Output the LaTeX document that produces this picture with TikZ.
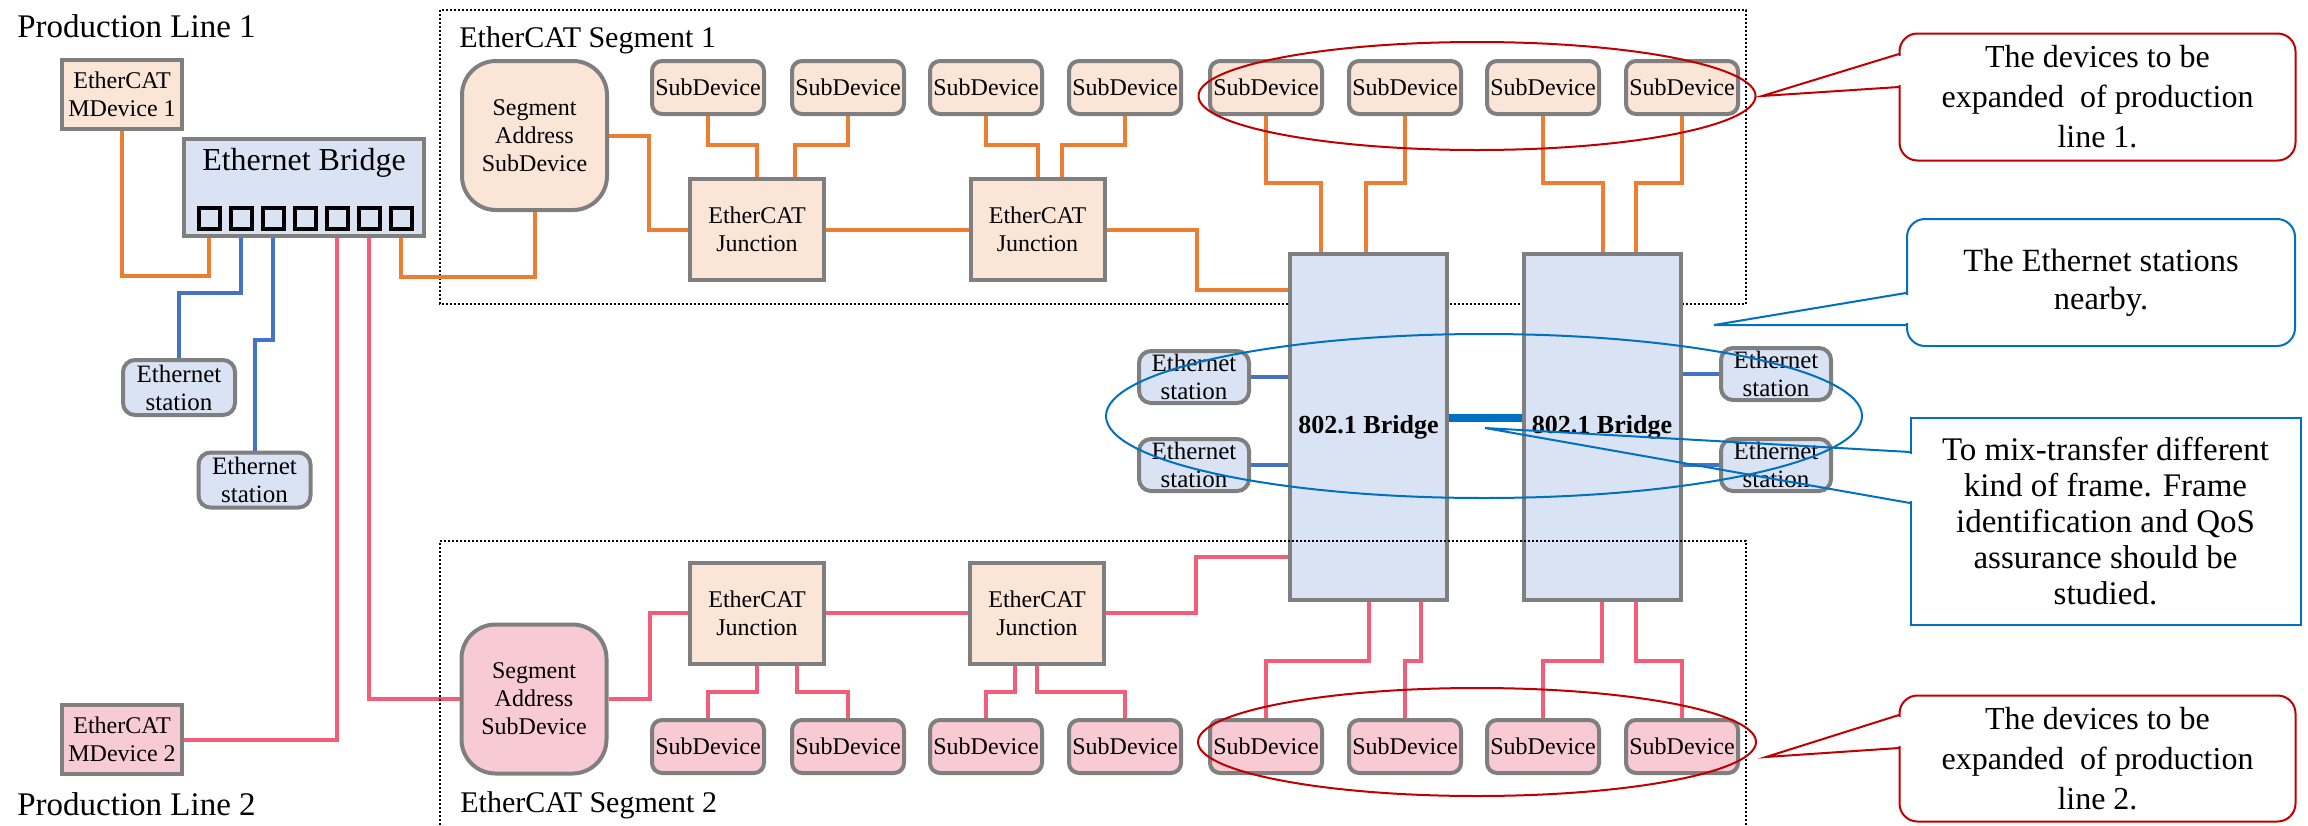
\documentclass[tikz,border=0pt]{standalone}
\usepackage{fontspec}
\setmainfont{Liberation Serif}
\usetikzlibrary{calc,shapes.geometric}
\definecolor{gborder}{HTML}{7F7F7F}
\definecolor{peach}{HTML}{FBE5D6}
\definecolor{pinkf}{HTML}{F8CAD3}
\definecolor{bluef}{HTML}{DAE3F3}
\definecolor{orl}{HTML}{ED7D31}
\definecolor{pkl}{HTML}{F25D79}
\definecolor{bll}{HTML}{4472C4}
\definecolor{cblue}{HTML}{0070C0}
\definecolor{cred}{HTML}{C00000}
\pgfdeclarelayer{bg}
\pgfsetlayers{bg,main}
\tikzset{
  box/.style={draw=gborder, line width=2pt, inner sep=0pt, align=center, font=\fontsize{12}{14}\selectfont},
  mdev/.style={box, minimum width=60pt, minimum height=34.5pt},
  subdev/.style={box, rounded corners=5pt, minimum width=56pt, minimum height=26.5pt},
  estation/.style={box, fill=bluef, rounded corners=6pt, minimum width=56pt, minimum height=27.5pt, font=\fontsize{12.5}{14}\selectfont},
  estationb/.style={estation, minimum width=55pt, minimum height=26pt},
  segaddr/.style={box, rounded corners=17pt, minimum width=72.5pt, minimum height=74.5pt},
  junc/.style={box, fill=peach, minimum width=67pt, minimum height=50.5pt},
  bridge/.style={box, fill=bluef, minimum width=78.5pt, minimum height=173pt, font=\fontsize{13}{15}\selectfont\bfseries},
  port/.style={draw=black, line width=2pt, minimum size=10.5pt, inner sep=0pt},
  conn/.style={line width=2pt},
  orc/.style={conn, orl},
  pkc/.style={conn, pkl},
  blc/.style={conn, bll},
  seg/.style={line width=1pt, dash pattern=on 1pt off 1pt},
  callbox/.style={line width=1pt, fill=white, inner sep=0pt, align=center, font=\fontsize{16}{20}\selectfont},
  hl/.style={ellipse, line width=1pt, inner sep=0pt},
  lbl/.style={inner sep=0pt, anchor=base west},
}
\begin{document}
\begin{tikzpicture}[x=0.5pt, y=-0.5pt]
\useasboundingbox (0,0) rectangle (2308,825);
% titles
\node[lbl, font=\fontsize{16.5}{18}\selectfont] (pl1) at (17,37) {Production Line 1};
\node[lbl, font=\fontsize{16.5}{18}\selectfont] (pl2) at (17,815) {Production Line 2};
\node[lbl, font=\fontsize{15}{17}\selectfont] (sg1) at (459,47) {EtherCAT Segment 1};
\node[lbl, font=\fontsize{15}{17}\selectfont] (sg2) at (460,812) {EtherCAT Segment 2};
% left part
\node[mdev, fill=peach] (md1) at (122,94.5) {EtherCAT\\MDevice 1};
\node[mdev, fill=pinkf] (md2) at (122,739.5) {EtherCAT\\MDevice 2};
\node[box, fill=bluef, minimum width=120pt, minimum height=48.5pt] (eb) at (304,187.5) {};
\node[inner sep=0pt, anchor=base, font=\fontsize{16}{18}\selectfont] (ebt) at (304,170) {Ethernet Bridge};
\foreach \i in {1,...,7} \node[port] (p\i) at ({209+32*(\i-1)},218) {};
\node[estation] (es1) at (179,387.5) {Ethernet\\station};
\node[estation] (es2) at (254.5,480) {Ethernet\\station};
% segments
\node[segaddr, fill=peach] (sa1) at (534.5,135.5) {Segment\\Address\\SubDevice};
\node[segaddr, fill=pinkf] (sa2) at (534,699) {Segment\\Address\\SubDevice};
\foreach \i/\x in {1/708,2/848,3/986,4/1125,5/1266,6/1405,7/1543,8/1682}{
  \node[subdev, fill=peach] (a\i) at (\x,87.5) {SubDevice};
  \node[subdev, fill=pinkf] (b\i) at (\x,746.5) {SubDevice};
}
\node[junc] (j1) at (757,229.5) {EtherCAT\\Junction};
\node[junc] (j2) at (1037.5,229.5) {EtherCAT\\Junction};
\node[junc] (j1b) at (757,613) {EtherCAT\\Junction};
\node[junc] (j2b) at (1037,613) {EtherCAT\\Junction};
% bridges and stations
\node[bridge] (br1) at (1368.5,427) {802.1 Bridge};
\node[bridge] (br2) at (1602,427) {802.1 Bridge};
\node[estationb] (el1) at (1194,377) {Ethernet\\station};
\node[estationb] (el2) at (1194,465) {Ethernet\\station};
\node[estationb] (er1) at (1776,374) {Ethernet\\station};
\node[estationb] (er2) at (1776,465) {Ethernet\\station};

\begin{pgfonlayer}{bg}
\draw[seg] (440,10) rectangle (1746,304);
% left
\draw[orc] (md1.south) -- (md1.south |- 0,276) -| (p1.south);
\draw[blc] (p2.south) -- (p2.south |- 0,293) -| (es1.north);
\draw[blc] (p3.south) -- (p3.south |- 0,340) -| (es2.north);
\draw[pkc] (p5.south) |- (md2.east);
\draw[pkc] (p6.south) |- (sa2.west);
\draw[orc] (p7.south) -- (p7.south |- 0,277) -| (sa1.south);
% segment 1
\draw[orc] (sa1.east) -- ++(40,0) |- (j1.west);
\draw[orc] (j1.east) -- (j2.west);
\draw[orc] (a1.south) -- ++(0,29) -| (j1.north);
\draw[orc] (a2.south) -- ++(0,29) -| ($(j1.north)+(38,0)$);
\draw[orc] (a3.south) -- ++(0,29) -| (j2.north);
\draw[orc] (a4.south) -- ++(0,29) -| ($(j2.north)+(24.5,0)$);
\draw[orc] (j2.east) -- ++(90,0) |- (br1.west |- 0,290);
\draw[orc] (a5.south) -- ++(0,67) -| ($(br1.north)+(-47.5,0)$);
\draw[orc] (a6.south) -- ++(0,67) -| ($(br1.north)+(-2.5,0)$);
\draw[orc] (a7.south) -- ++(0,67) -| ($(br2.north)+(1,0)$);
\draw[orc] (a8.south) -- ++(0,67) -| ($(br2.north)+(34,0)$);
% segment 2
\draw[pkc] (sa2.east) -- ++(41,0) |- (j1b.west);
\draw[pkc] (j1b.east) -- (j2b.west);
\draw[pkc] (j1b.south) -- ++(0,26) -| (b1.north);
\draw[pkc] ($(j1b.south)+(40,0)$) -- ++(0,26) -| (b2.north);
\draw[pkc] ($(j2b.south)+(-22,0)$) -- ++(0,26) -| (b3.north);
\draw[pkc] (j2b.south) -- ++(0,26) -| (b4.north);
\draw[pkc] (j2b.east) -- ++(90,0) |- (br1.west |- 0,557);
\draw[pkc] (br1.south) -- ++(0,59) -| (b5.north);
\draw[pkc] ($(br1.south)+(52.5,0)$) -- ++(0,59) -| (b6.north);
\draw[pkc] (br2.south) -- ++(0,59) -| (b7.north);
\draw[pkc] ($(br2.south)+(34,0)$) -- ++(0,59) -| (b8.north);
% stations at bridges
\draw[blc] (el1.east) -- (el1.east -| br1.west);
\draw[blc] (el2.east) -- (el2.east -| br1.west);
\draw[blc] (er1.west) -- (er1.west -| br2.east);
\draw[blc] (er2.west) -- (er2.west -| br2.east);
\draw[cblue, line width=4pt] (br1.east |- 0,418) -- (br2.west |- 0,418);
\end{pgfonlayer}

\draw[seg] (440,825) -- (440,541) -- (1746,541) -- (1746,825);

% highlight ellipses
\node[hl, draw=cred, minimum width=278.5pt, minimum height=54pt] (e1) at (1477,96) {};
\node[hl, draw=cblue, minimum width=378pt, minimum height=82pt] (e2) at (1484,416) {};
\node[hl, draw=cred, minimum width=279pt, minimum height=54pt] (e3) at (1477,742) {};

% callouts
\node[callbox, draw=cred, rounded corners=9pt, minimum width=198pt, minimum height=63.5pt] (c1) at (2097.5,97) {The devices to be\\expanded\ \ of production\\line 1.};
\fill[white] (1896,56) rectangle (1902,85);
\draw[cred, line width=1pt] (1899,54) -- (1762,96) -- (1899,87);

\node[callbox, draw=cblue, rounded corners=9pt, minimum width=194pt, minimum height=63.5pt, font=\fontsize{16.2}{19}\selectfont] (c2) at (2101,282.5) {The Ethernet stations\\nearby.};
\fill[white] (1903,295) rectangle (1909,323);
\draw[cblue, line width=1pt] (1906,293) -- (1714,325) -- (1906,325);

\node[callbox, draw=cblue, minimum width=195pt, minimum height=103.5pt, font=\fontsize{16.5}{18}\selectfont] (c3) at (2105.5,521) {To mix-transfer different\\kind of frame. Frame\\identification and QoS\\assurance should be\\studied.};
\fill[white] (1907,454) rectangle (1913,501);
\draw[cblue, line width=1pt] (1910,452) -- (1485,428) -- (1910,503);

\node[callbox, draw=cred, rounded corners=9pt, minimum width=198pt, minimum height=63pt] (c4) at (2097.5,758.5) {The devices to be\\expanded\ \ of production\\line 2.};
\fill[white] (1896,717) rectangle (1902,746);
\draw[cred, line width=1pt] (1899,715) -- (1766,757) -- (1899,748);
\end{tikzpicture}
\end{document}
